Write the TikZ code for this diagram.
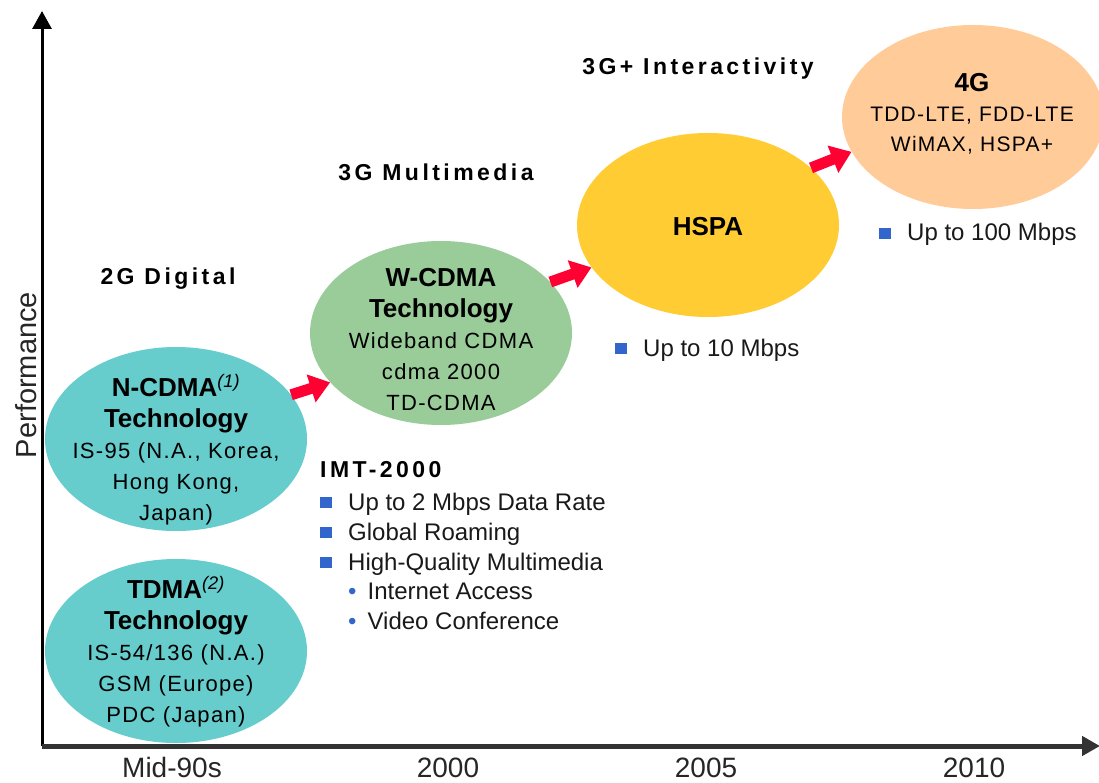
\documentclass[tikz,border=0pt]{standalone}
\usepackage{fontspec}
\setmainfont{Liberation Sans}
\newfontfamily\headfont{Liberation Sans}[LetterSpace=15]
\newfontfamily\widefont{Liberation Sans}[LetterSpace=6]
\usetikzlibrary{arrows.meta,shapes.geometric}
\definecolor{techteal}{RGB}{102,204,204}
\definecolor{techgreen}{RGB}{153,204,153}
\definecolor{techyellow}{RGB}{255,204,51}
\definecolor{techpeach}{RGB}{255,204,153}
\definecolor{arrowred}{RGB}{255,0,51}
\definecolor{bulletblue}{RGB}{51,102,204}
\newcommand{\techtitle}[1]{{\normalfont\bfseries\fontsize{26}{31}\selectfont #1}}
\newcommand{\sqbullet}{\textcolor{bulletblue}{\rule[2pt]{12pt}{11pt}}\hspace{16pt}}
\newcommand{\dotbullet}{\textcolor{bulletblue}{\textbullet}\hspace{11pt}}
\begin{document}
\begin{tikzpicture}[x=1pt, y=-1pt,
  tech/.style={ellipse, minimum width=262pt, minimum height=184pt, inner sep=0pt},
  techtext/.style={align=center, inner sep=0pt, font=\widefont\fontsize{22}{31}\selectfont},
  heading/.style={anchor=base, inner sep=0pt, font=\headfont\bfseries\fontsize{23}{28}\selectfont},
  item/.style={anchor=base west, inner sep=0pt, text=black!90, font=\fontsize{24}{30}\selectfont},
  tick/.style={anchor=base, inner sep=0pt, text=black!85, font=\fontsize{28}{32}\selectfont},
  axis/.style={line width=3pt, -{Triangle[length=18pt,width=19pt]}},
  evo/.style={arrowred, line width=11pt, -{Triangle[length=20pt,width=28pt]}}]
\clip (0,0) rectangle (1099,783);
\coordinate (origin) at (42,746);
\coordinate (ytop) at (42,11);
\coordinate (xend) at (1100,746);
\draw[axis] (origin) -- (ytop);
\draw[axis, line width=5pt, black!80] (origin) -- (xend);
\node[rotate=90, inner sep=0pt, text=black!85, font=\fontsize{29}{34}\selectfont] (perf) at (26,375) {Performance};
\node[tick] (mid90) at (172,777) {Mid-90s};
\node[tick] (y2000) at (448,777) {2000};
\node[tick] (y2005) at (706,777) {2005};
\node[tick] (y2010) at (974,777) {2010};

\node[heading] (gen2) at (168,285) {2G Digital};
\node[heading] (gen3) at (436,181) {3G Multimedia};
\node[heading] (gen3plus) at (698,75) {3G+ Interactivity};

\node[tech, fill=techteal] (ncdma) at (176,439) {};
\node[techtext] (ncdmatext) at (176,450) {\techtitle{N-CDMA\textsuperscript{\mdseries\itshape(1)}}\\ \techtitle{Technology}\\ IS-95 (N.A., Korea,\\ Hong Kong,\\ Japan)};
\node[tech, fill=techteal] (tdma) at (176,651) {};
\node[techtext] (tdmatext) at (176,652) {\techtitle{TDMA\textsuperscript{\mdseries\itshape(2)}}\\ \techtitle{Technology}\\ IS-54/136 (N.A.)\\ GSM (Europe)\\ PDC (Japan)};
\node[tech, fill=techgreen] (wcdma) at (441,333) {};
\node[techtext] (wcdmatext) at (441,340) {\techtitle{W-CDMA}\\ \techtitle{Technology}\\ Wideband CDMA\\ cdma 2000\\ TD-CDMA};
\node[tech, fill=techyellow] (hspa) at (708,225) {};
\node[techtext] (hspatext) at (708,227) {\techtitle{HSPA}};
\node[tech, fill=techpeach] (fourg) at (973,117) {};
\node[techtext, font=\widefont\fontsize{21}{30}\selectfont] (fourgtext) at (972,114) {\techtitle{4G}\\ TDD-LTE, FDD-LTE\\ WiMAX, HSPA+};

\draw[evo] (ncdma.21) -- (wcdma.204);
\draw[evo] (wcdma.25) -- (hspa.200);
\draw[evo] (hspa.29) -- (fourg.196);

\node[heading, anchor=base west] (imt) at (320,477) {IMT-2000};
\node[item] (imtrate) at (320,510) {\sqbullet Up to 2 Mbps Data Rate};
\node[item] (imtroam) at (320,540) {\sqbullet Global Roaming};
\node[item] (imtmedia) at (320,570) {\sqbullet High-Quality Multimedia};
\node[item] (imtweb) at (348,599) {\dotbullet Internet Access};
\node[item] (imtvideo) at (348,629) {\dotbullet Video Conference};
\node[item] (hsparate) at (615,356) {\sqbullet Up to 10 Mbps};
\node[item] (fourgrate) at (879,241) {\sqbullet Up to 100 Mbps};
\end{tikzpicture}
\end{document}
